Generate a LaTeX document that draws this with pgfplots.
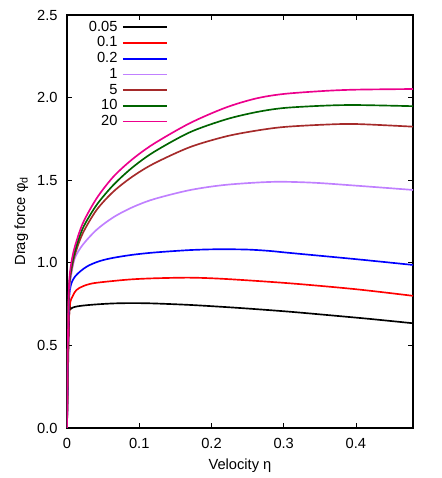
\documentclass[border=0pt]{standalone}
\usepackage{pgfplots}
\pgfplotsset{compat=1.18}
\usepackage{fontspec}
\setmainfont{Liberation Sans}
\definecolor{lav}{RGB}{192,128,255}
\definecolor{brn}{RGB}{165,42,42}
\definecolor{dgr}{RGB}{0,100,0}
\pgfplotsset{leg/.style={legend image code/.code={\draw[#1,line width=1.25pt] (0pt,0pt) -- (33pt,0pt);}}}
\begin{document}
\begin{tikzpicture}
\begin{axis}[
  name=ax,
  scale only axis,
  width=259.5pt, height=309.75pt,
  xmin=0, xmax=0.479, ymin=0, ymax=2.5,
  xtick={0,0.1,0.2,0.3,0.4},
  xticklabels={0,0.1,0.2,0.3,0.4},
  ytick={0,0.5,1,1.5,2,2.5},
  yticklabels={0.0,0.5,1.0,1.5,2.0,2.5},
  tick align=inside,
  major tick length=3.5pt,
  every tick/.style={black, line width=0.5pt},
  axis line style={line width=0.8pt},
  tick label style={font=\fontsize{11}{13}\selectfont},
  yticklabel style={xshift=-3.5pt},
  xticklabel style={yshift=-4pt},
  label style={font=\fontsize{11}{13}\selectfont},
  xlabel={Velocity η},
  ylabel={Drag force φ\raisebox{-0.35ex}{\fontsize{8}{9}\selectfont d}},
  xlabel style={yshift=-1pt},
  ylabel style={yshift=0pt},
  legend style={draw=none, fill=none, at={(0.292,0.99)}, anchor=north east,
    font=\fontsize{11}{13}\selectfont, row sep=0pt, inner sep=0pt,
    nodes={text height=8pt, text depth=2pt, inner ysep=0.9pt, inner xsep=3.5pt}},
  legend cell align=right,
  legend plot pos=right,
  every axis plot/.append style={line width=1.25pt, smooth, tension=0.5},
]
\addplot[black, leg=black] coordinates {(0,0) (0.003,0.69) (0.005,0.72) (0.01,0.732) (0.02,0.74) (0.04,0.748) (0.064,0.754) (0.09,0.756) (0.12,0.754) (0.17,0.745) (0.22,0.732) (0.26,0.72) (0.308,0.704) (0.36,0.684) (0.42,0.66) (0.479,0.634)};
\addlegendentry{0.05}
\addplot[red, leg=red] coordinates {(0,0) (0.002,0.55) (0.004,0.745) (0.008,0.80) (0.013,0.835) (0.022,0.858) (0.036,0.876) (0.064,0.89) (0.09,0.9) (0.12,0.906) (0.17,0.91) (0.22,0.902) (0.308,0.876) (0.40,0.84) (0.479,0.80)};
\addlegendentry{0.1}
\addplot[blue, leg=blue] coordinates {(0,0) (0.002,0.62) (0.004,0.835) (0.011,0.916) (0.027,0.976) (0.045,1.01) (0.064,1.03) (0.09,1.048) (0.12,1.062) (0.17,1.077) (0.21,1.082) (0.25,1.08) (0.28,1.072) (0.308,1.06) (0.40,1.022) (0.479,0.987)};
\addlegendentry{0.2}
\addplot[lav, leg=lav] coordinates {(0,0) (0.0015,0.6) (0.003,0.82) (0.006,0.93) (0.011,1.03) (0.022,1.11) (0.041,1.20) (0.064,1.275) (0.09,1.335) (0.12,1.385) (0.17,1.44) (0.22,1.472) (0.285,1.49) (0.34,1.485) (0.40,1.467) (0.479,1.441)};
\addlegendentry{1}
\addplot[brn, leg=brn] coordinates {(0,0) (0.0015,0.6) (0.003,0.85) (0.006,0.95) (0.011,1.05) (0.022,1.18) (0.041,1.32) (0.064,1.43) (0.09,1.52) (0.12,1.60) (0.17,1.70) (0.22,1.765) (0.262,1.80) (0.30,1.822) (0.355,1.836) (0.40,1.84) (0.479,1.824)};
\addlegendentry{5}
\addplot[dgr, leg=dgr] coordinates {(0,0) (0.0015,0.6) (0.003,0.86) (0.006,0.97) (0.011,1.07) (0.022,1.21) (0.041,1.35) (0.064,1.47) (0.09,1.575) (0.12,1.67) (0.17,1.79) (0.22,1.868) (0.262,1.912) (0.30,1.937) (0.355,1.951) (0.40,1.955) (0.479,1.948)};
\addlegendentry{10}
\addplot[magenta, leg=magenta] coordinates {(0,0) (0.0015,0.6) (0.003,0.88) (0.006,1.0) (0.011,1.10) (0.022,1.24) (0.041,1.39) (0.064,1.52) (0.09,1.625) (0.12,1.72) (0.17,1.845) (0.22,1.94) (0.262,1.995) (0.30,2.022) (0.355,2.04) (0.40,2.048) (0.479,2.052)};
\addlegendentry{20}
\end{axis}
\pgfresetboundingbox
\path (ax.south west) ++(-50.25pt,-37.5pt) rectangle ++(331.5pt,358.5pt);
\end{tikzpicture}
\end{document}
